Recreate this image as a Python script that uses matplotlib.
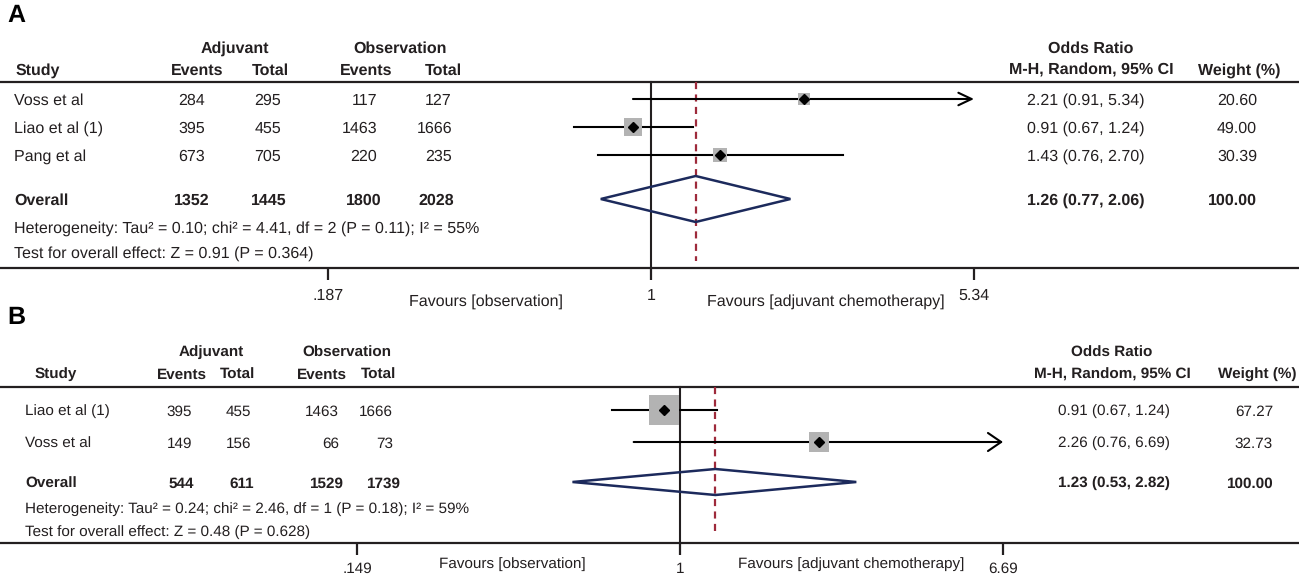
import matplotlib.pyplot as plt
from matplotlib.ticker import NullLocator

plt.rcParams['font.family'] = ['Liberation Sans', 'DejaVu Sans']
plt.rcParams['text.hinting'] = 'no_hinting'

W, H = 1299, 575
INK = '#231f20'
DY = 1.5  # nudge text down so caps sit on the row centre

# ---- panel A data ----
studies_a = ['Voss et al', 'Liao et al (1)', 'Pang et al']
adj_events_a = [284, 395, 673]
adj_total_a = [295, 455, 705]
obs_events_a = [117, 1463, 220]
obs_total_a = [127, 1666, 235]
or_a = [2.21, 0.91, 1.43]
lo_a = [0.91, 0.67, 0.76]
hi_a = [5.34, 1.24, 2.70]
weight_a = [20.60, 49.00, 30.39]
overall_counts_a = [1352, 1445, 1800, 2028]
overall_or_a = [1.26, 0.77, 2.06]
overall_weight_a = 100.00
het_a = 'Heterogeneity: Tau² = 0.10; chi² = 4.41, df = 2 (P = 0.11); I² = 55%'
test_a = 'Test for overall effect: Z = 0.91 (P = 0.364)'
ticks_a = [0.187, 1, 5.34]
tick_labels_a = ['.187', '1', '5.34']

# ---- panel B data ----
studies_b = ['Liao et al (1)', 'Voss et al']
adj_events_b = [395, 149]
adj_total_b = [455, 156]
obs_events_b = [1463, 66]
obs_total_b = [1666, 73]
or_b = [0.91, 2.26]
lo_b = [0.67, 0.76]
hi_b = [1.24, 6.69]
weight_b = [67.27, 32.73]
overall_counts_b = [544, 611, 1529, 1739]
overall_or_b = [1.23, 0.53, 2.82]
overall_weight_b = 100.00
het_b = 'Heterogeneity: Tau² = 0.24; chi² = 2.46, df = 1 (P = 0.18); I² = 59%'
test_b = 'Test for overall effect: Z = 0.48 (P = 0.628)'
ticks_b = [0.149, 1, 6.69]
tick_labels_b = ['.149', '1', '6.69']

# layout in pixels (top-left origin)
lay_a = dict(letter='A', letter_xy=(7, 16), hdr1=47, hdr2=69, top=82, bottom=268,
             rows=[99, 127, 155], overall=199, het=227, test=252, text_x=14,
             study_hdr=(16, 'left'), group_x=[235, 400], col_hdr=[197, 270, 366, 443],
             col_right=[205, 281, 377, 452], overall_right=[210, 287, 382, 454],
             px_min=328, px_max=974, or_x=1086, or_hdr_x=1091, w_right=1257, w_hdr_x=1239,
             fav_x=[486, 826], fav_y=300, tick_pad=6, box_scale=2.45, dia_h=23,
             head_w=0.45, fs=11.5)
lay_b = dict(letter='B', letter_xy=(7, 318), hdr1=351, hdr2=373, top=387, bottom=543,
             rows=[410, 442], overall=482, het=508, test=531, text_x=25,
             study_hdr=(56, 'center'), group_x=[211, 347], col_hdr=[182, 237, 322, 378],
             col_right=[192, 251, 339, 393], overall_right=[194, 254, 343, 400],
             px_min=357, px_max=1003, or_x=1114, or_hdr_x=1112, w_right=1273, w_hdr_x=1257,
             fav_x=[512, 851], fav_y=563, tick_pad=5, box_scale=3.66, dia_h=13,
             head_w=0.65, fs=11)

fig = plt.figure(figsize=(W / 100, H / 100), dpi=100)
bg = fig.add_axes([0, 0, 1, 1])
bg.set_xlim(0, W)
bg.set_ylim(H, 0)
bg.axis('off')


def put(x, y, s, fs, bold=False, ha='left'):
    bg.text(x, y + DY, s, fontsize=fs, fontweight='bold' if bold else 'normal',
            ha=ha, va='center', color=INK)


def draw_panel(lay, studies, adj_ev, adj_tot, obs_ev, obs_tot, ors, los, his, weights,
               overall_counts, overall_or, overall_w, het, test, ticks, tick_labels):
    fs = lay['fs']
    bg.text(*lay['letter_xy'], lay['letter'], fontsize=18, fontweight='bold', va='center', color='black')

    # headers
    put(lay['group_x'][0], lay['hdr1'], 'Adjuvant', fs, True, 'center')
    put(lay['group_x'][1], lay['hdr1'], 'Observation', fs, True, 'center')
    put(lay['or_hdr_x'], lay['hdr1'], 'Odds Ratio', fs, True, 'center')
    sx, sha = lay['study_hdr']
    put(sx, lay['hdr2'], 'Study', fs, True, sha)
    for x, lab in zip(lay['col_hdr'], ['Events', 'Total', 'Events', 'Total']):
        put(x, lay['hdr2'], lab, fs, True, 'center')
    put(lay['or_hdr_x'], lay['hdr2'], 'M-H, Random, 95% CI', fs, True, 'center')
    put(lay['w_hdr_x'], lay['hdr2'], 'Weight (%)', fs, True, 'center')

    bg.plot([0, W], [lay['top'], lay['top']], color=INK, lw=1.6)
    bg.plot([0, W], [lay['bottom'], lay['bottom']], color=INK, lw=1.6)

    # study rows
    for i, y in enumerate(lay['rows']):
        put(lay['text_x'], y, studies[i], fs)
        for x, v in zip(lay['col_right'], [adj_ev[i], adj_tot[i], obs_ev[i], obs_tot[i]]):
            put(x, y, str(v), fs, ha='right')
        put(lay['or_x'], y, f'{ors[i]:.2f} ({los[i]:.2f}, {his[i]:.2f})', fs, ha='center')
        put(lay['w_right'], y, f'{weights[i]:.2f}', fs, ha='right')

    yo = lay['overall']
    put(lay['text_x'], yo, 'Overall', fs, True)
    for x, v in zip(lay['overall_right'], overall_counts):
        put(x, yo, str(v), fs, True, 'right')
    put(lay['or_x'], yo, '{:.2f} ({:.2f}, {:.2f})'.format(*overall_or), fs, True, 'center')
    put(lay['w_right'], yo, f'{overall_w:.2f}', fs, True, 'right')
    put(lay['text_x'], lay['het'], het, fs)
    put(lay['text_x'], lay['test'], test, fs)

    put(lay['fav_x'][0], lay['fav_y'], 'Favours [observation]', fs, ha='center')
    put(lay['fav_x'][1], lay['fav_y'], 'Favours [adjuvant chemotherapy]', fs, ha='center')

    # forest plot axes, log scale, y in pixel rows
    x0, x1 = lay['px_min'], lay['px_max']
    y0, y1 = lay['top'], lay['bottom']
    ax = fig.add_axes([x0 / W, 1 - y1 / H, (x1 - x0) / W, (y1 - y0) / H])
    ax.patch.set_alpha(0)
    ax.set_xscale('log')
    xmin, xmax = ticks[0], ticks[-1]
    ax.set_xlim(xmin, xmax)
    ax.set_ylim(y1, y0)
    for s in ax.spines.values():
        s.set_visible(False)
    ax.set_xticks(ticks, labels=tick_labels)
    ax.xaxis.set_minor_locator(NullLocator())
    ax.set_yticks([])
    ax.tick_params(axis='x', direction='out', length=8.5, width=1.6, color=INK,
                   labelsize=fs, labelcolor=INK, pad=lay['tick_pad'])

    ax.plot([1, 1], [y1, y0], color=INK, lw=1.5, clip_on=False)
    ax.plot([overall_or[0]] * 2, [y0, y1 - 7], color='#9e2a3b', lw=1.6,
            linestyle=(0, (3.2, 2.4)), clip_on=False)

    for i, y in enumerate(lay['rows']):
        if his[i] >= xmax:
            ax.annotate('', xy=(xmax, y), xytext=(los[i], y),
                        arrowprops=dict(arrowstyle=f'->,head_length=0.95,head_width={lay["head_w"]}',
                                        lw=1.5, color='black', shrinkA=0, shrinkB=0))
        else:
            ax.plot([los[i], his[i]], [y, y], color='black', lw=1.5)
        side = lay['box_scale'] * weights[i] ** 0.5 * 0.72
        ax.scatter([ors[i]], [y], marker='s', s=side ** 2, color='#b3b3b3', linewidths=0, zorder=3)
        ax.plot([ors[i]], [y], marker='D', markersize=5, color='black', zorder=4)

    est, lo, hi = overall_or
    h = lay['dia_h']
    ax.fill([lo, est, hi, est, lo], [yo, yo - h, yo, yo + h, yo], facecolor='none',
            edgecolor='#1c2a5c', lw=1.8, zorder=3)


draw_panel(lay_a, studies_a, adj_events_a, adj_total_a, obs_events_a, obs_total_a,
           or_a, lo_a, hi_a, weight_a, overall_counts_a, overall_or_a, overall_weight_a,
           het_a, test_a, ticks_a, tick_labels_a)
draw_panel(lay_b, studies_b, adj_events_b, adj_total_b, obs_events_b, obs_total_b,
           or_b, lo_b, hi_b, weight_b, overall_counts_b, overall_or_b, overall_weight_b,
           het_b, test_b, ticks_b, tick_labels_b)

fig.savefig('out.png', dpi=100)
